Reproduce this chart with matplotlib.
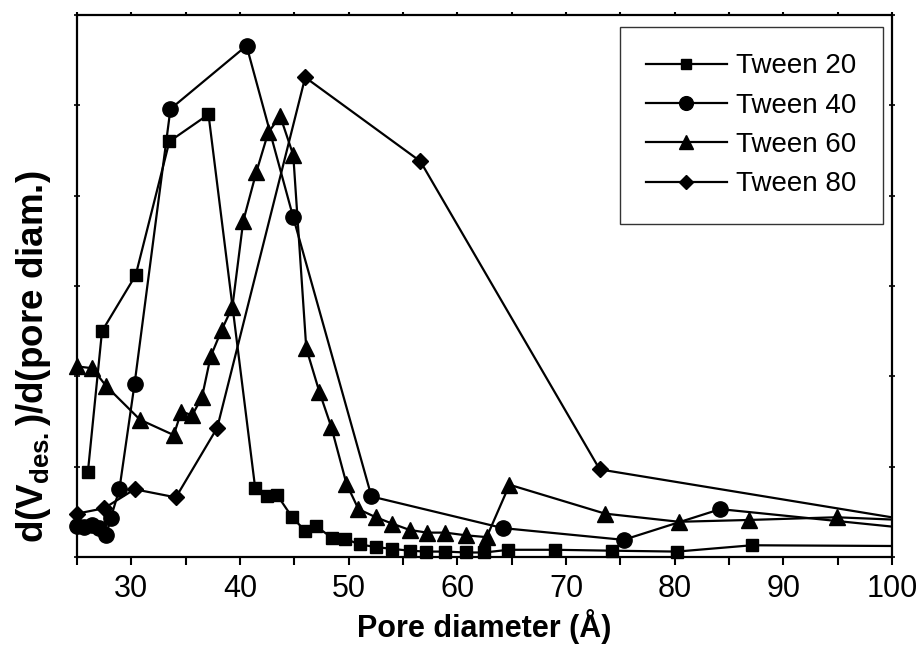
import numpy as np
import matplotlib
matplotlib.use("Agg")
import matplotlib.pyplot as plt

plt.rcParams['font.family'] = ['Liberation Sans', 'DejaVu Sans']
plt.rcParams['mathtext.fontset'] = 'custom'
plt.rcParams['mathtext.rm'] = 'Liberation Sans'
plt.rcParams['mathtext.bf'] = 'Liberation Sans:bold'

# ---- data ----
t20_x = [26.0, 27.3, 30.4, 33.5, 37.1, 41.4, 42.5, 43.4, 44.8, 46.0, 47.0, 48.5, 49.7,
         51.0, 52.5, 54.0, 55.6, 57.1, 58.9, 60.8, 62.5, 64.7, 69.0, 74.2, 80.2, 87.1, 103.0]
t20_y = [0.94, 2.50, 3.12, 4.60, 4.90, 0.76, 0.67, 0.69, 0.44, 0.29, 0.34, 0.21, 0.20,
         0.14, 0.11, 0.09, 0.07, 0.06, 0.06, 0.05, 0.05, 0.08, 0.08, 0.07, 0.06, 0.13, 0.12]

t40_x = [25.0, 25.6, 26.4, 27.0, 27.7, 28.1, 28.9, 30.3, 33.6, 40.6, 44.9, 52.1, 64.2,
         75.3, 84.2, 103.0]
t40_y = [0.34, 0.33, 0.35, 0.32, 0.24, 0.43, 0.75, 1.92, 4.96, 5.66, 3.76, 0.67, 0.32,
         0.19, 0.53, 0.30]

t60_x = [25.0, 26.4, 27.7, 30.8, 33.9, 34.6, 35.6, 36.5, 37.3, 38.3, 39.3, 40.3, 41.5,
         42.6, 43.7, 44.9, 46.1, 47.3, 48.4, 49.8, 50.9, 52.5, 54.0, 55.6, 57.2, 58.9,
         60.8, 62.7, 64.8, 73.6, 80.4, 86.8, 94.9, 103.0]
t60_y = [2.11, 2.09, 1.89, 1.52, 1.35, 1.61, 1.57, 1.77, 2.22, 2.51, 2.77, 3.72, 4.26,
         4.70, 4.88, 4.45, 2.31, 1.83, 1.44, 0.81, 0.53, 0.44, 0.37, 0.30, 0.27, 0.27,
         0.24, 0.22, 0.80, 0.48, 0.39, 0.41, 0.44, 0.40]

t80_x = [25.0, 27.5, 30.3, 34.1, 37.9, 46.0, 56.6, 73.1, 103.0]
t80_y = [0.48, 0.54, 0.75, 0.66, 1.43, 5.31, 4.38, 0.97, 0.38]

labels = ['Tween 20', 'Tween 40', 'Tween 60', 'Tween 80']
x_ticks = [30, 40, 50, 60, 70, 80, 90, 100]
x_minor = [25, 35, 45, 55, 65, 75, 85, 95]
y_ticks = [0, 1, 2, 3, 4, 5, 6]

series = [(t20_x, t20_y, 's', 8.5), (t40_x, t40_y, 'o', 11),
          (t60_x, t60_y, '^', 11.5), (t80_x, t80_y, 'D', 8)]

fig = plt.figure(figsize=(9.19, 6.53), dpi=100)
ax = fig.add_axes([0.0838, 0.147, 0.8868, 0.830])
xmin, xmax = 25, 100

for (xs, ys, m, ms), lab in zip(series, labels):
    xs = np.asarray(xs); ys = np.asarray(ys)
    ax.plot(xs, ys, '-', color='black', lw=1.6, zorder=2)
    inside = xs <= xmax
    ax.plot(xs[inside], ys[inside], linestyle='none', marker=m, ms=ms,
            color='black', clip_on=False, zorder=3)
    ax.plot([], [], '-', marker=m, ms=ms * 0.9, color='black', lw=1.6, label=lab)

ax.set_xlim(xmin, xmax)
ax.set_ylim(0, 6)
ax.set_xticks(x_ticks)
ax.set_xticks(x_minor, minor=True)
ax.set_yticks(y_ticks)
ax.set_yticklabels([])
ax.tick_params(axis='x', which='both', direction='out', length=6, width=1.5,
               labelsize=22, pad=6, top=True)
ax.tick_params(axis='y', which='both', direction='inout', length=4, width=1.2,
               right=True)
for t in ax.xaxis.get_major_ticks() + ax.xaxis.get_minor_ticks():
    t.tick2line.set_markersize(2.5)
for s in ax.spines.values():
    s.set_linewidth(1.6)

ax.set_xlabel('Pore diameter (Å)', fontsize=22, fontweight='bold', labelpad=4)
ax.set_ylabel(r'd(V$_{\mathbf{des.}}$)/d(pore diam.)', fontsize=26.5, fontweight='bold')
ax.yaxis.set_label_coords(-0.030, 0.37)

leg = ax.legend(loc='upper right', bbox_to_anchor=(0.989, 0.978), borderaxespad=0,
                fontsize=20, frameon=True, fancybox=False, edgecolor='black',
                handlelength=2.9, handletextpad=0.35, labelspacing=0.48,
                borderpad=0.95, numpoints=1)
leg.get_frame().set_linewidth(1.0)

fig.savefig('out.png', dpi=100)
